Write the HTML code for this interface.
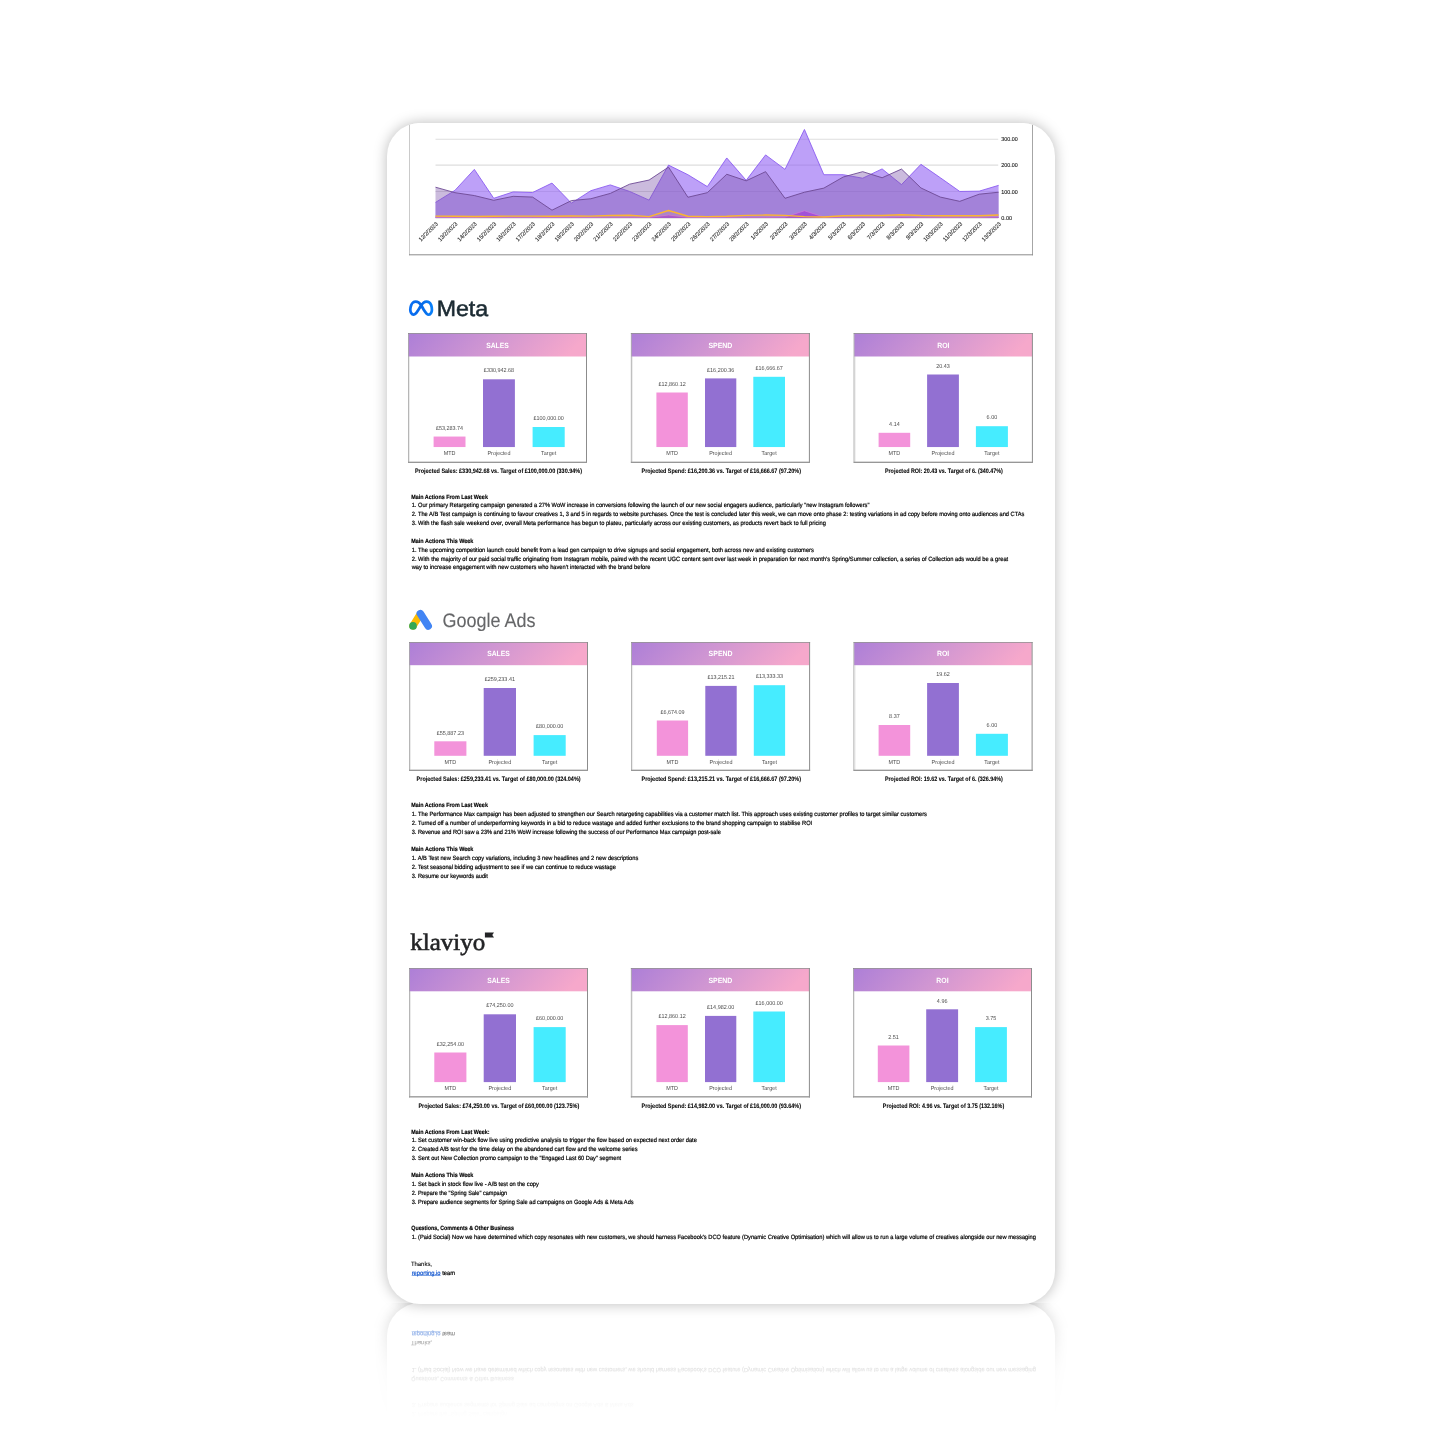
<!DOCTYPE html>
<html lang="en"><head><meta charset="utf-8"><title>Weekly performance report</title>
<style>
html,body{margin:0;padding:0;background:#fff}
body{width:1445px;height:1445px;overflow:hidden;position:relative;font-family:'Liberation Sans',sans-serif}
#wrap{position:absolute;left:347px;top:83px;width:748px;height:1221px;
 -webkit-box-reflect:below -1px linear-gradient(to bottom, transparent 0, transparent 1103px, rgba(0,0,0,.025) 1121px, rgba(0,0,0,.06) 1141px, rgba(0,0,0,.11) 1155px, rgba(0,0,0,.3) 1176px, rgba(0,0,0,.5) 1196px, rgba(0,0,0,.62) 1209px, rgba(0,0,0,.75) 100%)}
#card{position:absolute;left:40px;top:40px;width:668px;height:1181px;border-radius:33px;background:#fff;box-shadow:0 0 14px rgba(0,0,0,.27)}
#clip{position:absolute;left:0;top:0;right:0;bottom:0;border-radius:33px;overflow:hidden}
#sheet{position:absolute;left:-387px;top:-123px;width:1445px;height:1445px}
svg{position:absolute;left:0;top:0}
a{color:#1659d0;text-decoration:underline;text-decoration-thickness:.5px;text-underline-offset:-.2px;text-decoration-color:rgba(22,89,208,.55);text-decoration-skip-ink:none;-webkit-text-stroke:.2px #1659d0}
.t{position:absolute;white-space:nowrap;margin:0;transform-origin:0 50%;text-rendering:geometricPrecision;color:#000}
.n{font:normal 6.2px/8.68px 'Liberation Sans',sans-serif;-webkit-text-stroke:.2px #000}
.l{font:normal 6.2px/8.68px 'Liberation Sans',sans-serif;-webkit-text-stroke:.08px #000}
.h{font:bold 6.2px/8.68px 'Liberation Sans',sans-serif;-webkit-text-stroke:.16px #000}
.cap{font:bold 6.4px/8.96px 'Liberation Sans',sans-serif;-webkit-text-stroke:.06px #000}
.ttl{font:bold 7.6px/10.64px 'Liberation Sans',sans-serif;color:#fff}
.v{font:normal 5.8px/8.12px 'Liberation Sans',sans-serif;color:#4c4c4c}
</style></head><body>
<div id="wrap"><div id="card"><div id="clip"><div id="sheet">

<svg width="1445" height="1445" viewBox="0 0 1445 1445" font-family="Liberation Sans, sans-serif" text-rendering="geometricPrecision">
<defs><linearGradient id="hg" x1="0" y1="0" x2="1" y2="0.12"><stop offset="0" stop-color="#ad7fd7"/><stop offset="0.5" stop-color="#d096d2"/><stop offset="1" stop-color="#f6a8cb"/></linearGradient><linearGradient id="mg" gradientUnits="userSpaceOnUse" x1="409" y1="308" x2="433" y2="308"><stop offset="0" stop-color="#0a70f5"/><stop offset=".5" stop-color="#0668e6"/><stop offset="1" stop-color="#0a82fb"/></linearGradient></defs>
<rect x="409" y="100.0" width="624" height="155.3" fill="#fff"/>
<rect x="409" y="100.0" width="0.42" height="155.3" fill="#808080"/>
<rect x="1032" y="100.0" width="1" height="155.3" fill="#a6a6a6"/>
<rect x="409" y="254.3" width="624" height="1" fill="#8c8c8c"/>
<line x1="435.50" y1="139.25" x2="998.20" y2="139.25" stroke="#dedede" stroke-width="1.1"/>
<line x1="435.50" y1="165.10" x2="998.20" y2="165.10" stroke="#dedede" stroke-width="1.1"/>
<line x1="435.50" y1="191.50" x2="998.20" y2="191.50" stroke="#dedede" stroke-width="1.1"/>
<line x1="435.50" y1="218.10" x2="998.20" y2="218.10" stroke="#dedede" stroke-width="1.1"/>
<polygon points="435.50,218.10 435.50,202.42 454.92,190.39 474.33,169.38 493.75,198.31 513.17,191.91 532.59,192.52 552.00,183.08 571.42,203.18 590.84,190.69 610.26,184.91 629.67,191.46 649.09,200.13 668.51,165.12 687.92,174.71 707.34,186.58 726.76,157.96 746.18,180.34 765.59,154.91 785.01,169.38 804.43,129.49 823.84,174.71 843.26,174.71 862.68,178.21 882.10,168.92 901.51,184.60 920.93,164.35 940.35,177.75 959.77,191.46 979.18,191.15 998.60,185.37 998.60,218.10" fill="rgba(145,97,243,.6)"/>
<polyline points="435.50,202.42 454.92,190.39 474.33,169.38 493.75,198.31 513.17,191.91 532.59,192.52 552.00,183.08 571.42,203.18 590.84,190.69 610.26,184.91 629.67,191.46 649.09,200.13 668.51,165.12 687.92,174.71 707.34,186.58 726.76,157.96 746.18,180.34 765.59,154.91 785.01,169.38 804.43,129.49 823.84,174.71 843.26,174.71 862.68,178.21 882.10,168.92 901.51,184.60 920.93,164.35 940.35,177.75 959.77,191.46 979.18,191.15 998.60,185.37" fill="none" stroke="#8b5cf0" stroke-width="0.9" stroke-linejoin="round"/>
<polygon points="435.50,218.10 435.50,187.19 454.92,192.67 474.33,195.57 493.75,200.29 513.17,196.33 532.59,197.09 552.00,210.18 571.42,200.59 590.84,198.76 610.26,193.43 629.67,184.15 649.09,180.04 668.51,167.10 687.92,197.24 707.34,192.67 726.76,174.25 746.18,180.80 765.59,171.66 785.01,198.31 804.43,192.22 823.84,188.11 843.26,176.99 862.68,171.66 882.10,177.75 901.51,169.07 920.93,187.95 940.35,197.09 959.77,201.35 979.18,194.20 998.60,192.22 998.60,218.10" fill="rgba(126,84,170,.4)"/>
<polyline points="435.50,187.19 454.92,192.67 474.33,195.57 493.75,200.29 513.17,196.33 532.59,197.09 552.00,210.18 571.42,200.59 590.84,198.76 610.26,193.43 629.67,184.15 649.09,180.04 668.51,167.10 687.92,197.24 707.34,192.67 726.76,174.25 746.18,180.80 765.59,171.66 785.01,198.31 804.43,192.22 823.84,188.11 843.26,176.99 862.68,171.66 882.10,177.75 901.51,169.07 920.93,187.95 940.35,197.09 959.77,201.35 979.18,194.20 998.60,192.22" fill="none" stroke="#6d4a94" stroke-width="0.9" stroke-linejoin="round"/>
<polygon points="435.50,218.10 435.50,217.34 454.92,217.34 474.33,217.49 493.75,217.34 513.17,217.34 532.59,217.34 552.00,217.34 571.42,217.34 590.84,217.34 610.26,217.19 629.67,217.19 649.09,217.34 668.51,215.05 687.92,217.34 707.34,217.34 726.76,217.34 746.18,217.19 765.59,217.19 785.01,217.03 804.43,210.79 823.84,217.03 843.26,217.19 862.68,217.19 882.10,217.19 901.51,216.88 920.93,217.19 940.35,217.34 959.77,217.34 979.18,217.34 998.60,216.88 998.60,218.10" fill="rgba(160,70,215,.8)"/>
<polyline points="435.50,217.34 454.92,217.34 474.33,217.49 493.75,217.34 513.17,217.34 532.59,217.34 552.00,217.34 571.42,217.34 590.84,217.34 610.26,217.19 629.67,217.19 649.09,217.34 668.51,215.05 687.92,217.34 707.34,217.34 726.76,217.34 746.18,217.19 765.59,217.19 785.01,217.03 804.43,210.79 823.84,217.03 843.26,217.19 862.68,217.19 882.10,217.19 901.51,216.88 920.93,217.19 940.35,217.34 959.77,217.34 979.18,217.34 998.60,216.88" fill="none" stroke="#d27bdc" stroke-width="0.7" stroke-linejoin="round"/>
<polygon points="435.50,218.10 435.50,216.12 454.92,216.27 474.33,216.43 493.75,216.27 513.17,216.12 532.59,216.12 552.00,216.27 571.42,215.97 590.84,216.12 610.26,215.51 629.67,215.21 649.09,216.58 668.51,210.49 687.92,216.27 707.34,216.58 726.76,216.27 746.18,215.36 765.59,215.05 785.01,215.36 804.43,216.58 823.84,217.03 843.26,215.82 862.68,215.51 882.10,215.51 901.51,214.75 920.93,215.51 940.35,215.82 959.77,215.82 979.18,215.82 998.60,215.05 998.60,218.10" fill="rgba(255,170,60,.10)"/>
<polyline points="435.50,216.12 454.92,216.27 474.33,216.43 493.75,216.27 513.17,216.12 532.59,216.12 552.00,216.27 571.42,215.97 590.84,216.12 610.26,215.51 629.67,215.21 649.09,216.58 668.51,210.49 687.92,216.27 707.34,216.58 726.76,216.27 746.18,215.36 765.59,215.05 785.01,215.36 804.43,216.58 823.84,217.03 843.26,215.82 862.68,215.51 882.10,215.51 901.51,214.75 920.93,215.51 940.35,215.82 959.77,215.82 979.18,215.82 998.60,215.05" fill="none" stroke="#fbb530" stroke-width="1.4" stroke-linejoin="round"/>
<text x="1001.3" y="141.25" font-size="5.7" fill="#222" stroke="#222" stroke-width="0.12" textLength="16.4" lengthAdjust="spacingAndGlyphs">300.00</text>
<text x="1001.3" y="167.10" font-size="5.7" fill="#222" stroke="#222" stroke-width="0.12" textLength="16.4" lengthAdjust="spacingAndGlyphs">200.00</text>
<text x="1001.3" y="193.50" font-size="5.7" fill="#222" stroke="#222" stroke-width="0.12" textLength="16.4" lengthAdjust="spacingAndGlyphs">100.00</text>
<text x="1001.3" y="220.10" font-size="5.7" fill="#222" stroke="#222" stroke-width="0.12" textLength="10.7" lengthAdjust="spacingAndGlyphs">0.00</text>
<text transform="translate(438.40,224.40) rotate(-45)" x="-24.6" font-size="6" fill="#2a2a2a" stroke="#2a2a2a" stroke-width="0.1" textLength="24.6" lengthAdjust="spacingAndGlyphs">12/2/2023</text>
<text transform="translate(457.82,224.40) rotate(-45)" x="-24.6" font-size="6" fill="#2a2a2a" stroke="#2a2a2a" stroke-width="0.1" textLength="24.6" lengthAdjust="spacingAndGlyphs">13/2/2023</text>
<text transform="translate(477.23,224.40) rotate(-45)" x="-24.6" font-size="6" fill="#2a2a2a" stroke="#2a2a2a" stroke-width="0.1" textLength="24.6" lengthAdjust="spacingAndGlyphs">14/2/2023</text>
<text transform="translate(496.65,224.40) rotate(-45)" x="-24.6" font-size="6" fill="#2a2a2a" stroke="#2a2a2a" stroke-width="0.1" textLength="24.6" lengthAdjust="spacingAndGlyphs">15/2/2023</text>
<text transform="translate(516.07,224.40) rotate(-45)" x="-24.6" font-size="6" fill="#2a2a2a" stroke="#2a2a2a" stroke-width="0.1" textLength="24.6" lengthAdjust="spacingAndGlyphs">16/2/2023</text>
<text transform="translate(535.49,224.40) rotate(-45)" x="-24.6" font-size="6" fill="#2a2a2a" stroke="#2a2a2a" stroke-width="0.1" textLength="24.6" lengthAdjust="spacingAndGlyphs">17/2/2023</text>
<text transform="translate(554.90,224.40) rotate(-45)" x="-24.6" font-size="6" fill="#2a2a2a" stroke="#2a2a2a" stroke-width="0.1" textLength="24.6" lengthAdjust="spacingAndGlyphs">18/2/2023</text>
<text transform="translate(574.32,224.40) rotate(-45)" x="-24.6" font-size="6" fill="#2a2a2a" stroke="#2a2a2a" stroke-width="0.1" textLength="24.6" lengthAdjust="spacingAndGlyphs">19/2/2023</text>
<text transform="translate(593.74,224.40) rotate(-45)" x="-24.6" font-size="6" fill="#2a2a2a" stroke="#2a2a2a" stroke-width="0.1" textLength="24.6" lengthAdjust="spacingAndGlyphs">20/2/2023</text>
<text transform="translate(613.16,224.40) rotate(-45)" x="-24.6" font-size="6" fill="#2a2a2a" stroke="#2a2a2a" stroke-width="0.1" textLength="24.6" lengthAdjust="spacingAndGlyphs">21/2/2023</text>
<text transform="translate(632.57,224.40) rotate(-45)" x="-24.6" font-size="6" fill="#2a2a2a" stroke="#2a2a2a" stroke-width="0.1" textLength="24.6" lengthAdjust="spacingAndGlyphs">22/2/2023</text>
<text transform="translate(651.99,224.40) rotate(-45)" x="-24.6" font-size="6" fill="#2a2a2a" stroke="#2a2a2a" stroke-width="0.1" textLength="24.6" lengthAdjust="spacingAndGlyphs">23/2/2023</text>
<text transform="translate(671.41,224.40) rotate(-45)" x="-24.6" font-size="6" fill="#2a2a2a" stroke="#2a2a2a" stroke-width="0.1" textLength="24.6" lengthAdjust="spacingAndGlyphs">24/2/2023</text>
<text transform="translate(690.82,224.40) rotate(-45)" x="-24.6" font-size="6" fill="#2a2a2a" stroke="#2a2a2a" stroke-width="0.1" textLength="24.6" lengthAdjust="spacingAndGlyphs">25/2/2023</text>
<text transform="translate(710.24,224.40) rotate(-45)" x="-24.6" font-size="6" fill="#2a2a2a" stroke="#2a2a2a" stroke-width="0.1" textLength="24.6" lengthAdjust="spacingAndGlyphs">26/2/2023</text>
<text transform="translate(729.66,224.40) rotate(-45)" x="-24.6" font-size="6" fill="#2a2a2a" stroke="#2a2a2a" stroke-width="0.1" textLength="24.6" lengthAdjust="spacingAndGlyphs">27/2/2023</text>
<text transform="translate(749.08,224.40) rotate(-45)" x="-24.6" font-size="6" fill="#2a2a2a" stroke="#2a2a2a" stroke-width="0.1" textLength="24.6" lengthAdjust="spacingAndGlyphs">28/2/2023</text>
<text transform="translate(768.49,224.40) rotate(-45)" x="-22.0" font-size="6" fill="#2a2a2a" stroke="#2a2a2a" stroke-width="0.1" textLength="22.0" lengthAdjust="spacingAndGlyphs">1/3/2023</text>
<text transform="translate(787.91,224.40) rotate(-45)" x="-22.0" font-size="6" fill="#2a2a2a" stroke="#2a2a2a" stroke-width="0.1" textLength="22.0" lengthAdjust="spacingAndGlyphs">2/3/2023</text>
<text transform="translate(807.33,224.40) rotate(-45)" x="-22.0" font-size="6" fill="#2a2a2a" stroke="#2a2a2a" stroke-width="0.1" textLength="22.0" lengthAdjust="spacingAndGlyphs">3/3/2023</text>
<text transform="translate(826.74,224.40) rotate(-45)" x="-22.0" font-size="6" fill="#2a2a2a" stroke="#2a2a2a" stroke-width="0.1" textLength="22.0" lengthAdjust="spacingAndGlyphs">4/3/2023</text>
<text transform="translate(846.16,224.40) rotate(-45)" x="-22.0" font-size="6" fill="#2a2a2a" stroke="#2a2a2a" stroke-width="0.1" textLength="22.0" lengthAdjust="spacingAndGlyphs">5/3/2023</text>
<text transform="translate(865.58,224.40) rotate(-45)" x="-22.0" font-size="6" fill="#2a2a2a" stroke="#2a2a2a" stroke-width="0.1" textLength="22.0" lengthAdjust="spacingAndGlyphs">6/3/2023</text>
<text transform="translate(885.00,224.40) rotate(-45)" x="-22.0" font-size="6" fill="#2a2a2a" stroke="#2a2a2a" stroke-width="0.1" textLength="22.0" lengthAdjust="spacingAndGlyphs">7/3/2023</text>
<text transform="translate(904.41,224.40) rotate(-45)" x="-22.0" font-size="6" fill="#2a2a2a" stroke="#2a2a2a" stroke-width="0.1" textLength="22.0" lengthAdjust="spacingAndGlyphs">8/3/2023</text>
<text transform="translate(923.83,224.40) rotate(-45)" x="-22.0" font-size="6" fill="#2a2a2a" stroke="#2a2a2a" stroke-width="0.1" textLength="22.0" lengthAdjust="spacingAndGlyphs">9/3/2023</text>
<text transform="translate(943.25,224.40) rotate(-45)" x="-24.6" font-size="6" fill="#2a2a2a" stroke="#2a2a2a" stroke-width="0.1" textLength="24.6" lengthAdjust="spacingAndGlyphs">10/3/2023</text>
<text transform="translate(962.67,224.40) rotate(-45)" x="-24.6" font-size="6" fill="#2a2a2a" stroke="#2a2a2a" stroke-width="0.1" textLength="24.6" lengthAdjust="spacingAndGlyphs">11/3/2023</text>
<text transform="translate(982.08,224.40) rotate(-45)" x="-24.6" font-size="6" fill="#2a2a2a" stroke="#2a2a2a" stroke-width="0.1" textLength="24.6" lengthAdjust="spacingAndGlyphs">12/3/2023</text>
<text transform="translate(1001.50,224.40) rotate(-45)" x="-24.6" font-size="6" fill="#2a2a2a" stroke="#2a2a2a" stroke-width="0.1" textLength="24.6" lengthAdjust="spacingAndGlyphs">13/3/2023</text>
<rect x="408.00" y="333.00" width="179.00" height="130.00" fill="#fff"/>
<rect x="408.60" y="333.50" width="177.60" height="23.00" fill="url(#hg)"/>
<rect x="408.00" y="333.00" width="179.00" height="0.60" fill="#707070"/>
<rect x="408.00" y="333.00" width="0.60" height="130.00" fill="#868686"/>
<rect x="409.00" y="356.50" width="1.00" height="105.20" fill="rgba(0,0,0,.08)"/>
<rect x="586.00" y="333.00" width="1.00" height="130.00" fill="#8c8c8c"/>
<rect x="408.00" y="461.65" width="179.00" height="1.35" fill="#979797"/>
<rect x="433.60" y="436.55" width="31.90" height="10.50" fill="#f393da"/>
<rect x="483.00" y="379.30" width="31.90" height="67.75" fill="#9270d2"/>
<rect x="532.60" y="427.00" width="32.10" height="20.05" fill="#46ecff"/>
<rect x="630.90" y="333.00" width="179.00" height="130.00" fill="#fff"/>
<rect x="631.50" y="333.50" width="177.60" height="23.00" fill="url(#hg)"/>
<rect x="630.90" y="333.00" width="179.00" height="0.60" fill="#707070"/>
<rect x="630.90" y="333.00" width="0.60" height="130.00" fill="#868686"/>
<rect x="631.90" y="356.50" width="1.00" height="105.20" fill="rgba(0,0,0,.08)"/>
<rect x="808.90" y="333.00" width="1.00" height="130.00" fill="#8c8c8c"/>
<rect x="630.90" y="461.65" width="179.00" height="1.35" fill="#979797"/>
<rect x="656.40" y="392.50" width="31.40" height="54.55" fill="#f393da"/>
<rect x="705.00" y="378.40" width="31.30" height="68.65" fill="#9270d2"/>
<rect x="753.30" y="376.80" width="31.70" height="70.25" fill="#46ecff"/>
<rect x="853.70" y="333.00" width="179.20" height="130.00" fill="#fff"/>
<rect x="854.30" y="333.50" width="177.80" height="23.00" fill="url(#hg)"/>
<rect x="853.70" y="333.00" width="179.20" height="0.60" fill="#707070"/>
<rect x="853.70" y="333.00" width="0.60" height="130.00" fill="#868686"/>
<rect x="854.70" y="356.50" width="1.00" height="105.20" fill="rgba(0,0,0,.08)"/>
<rect x="1031.90" y="333.00" width="1.00" height="130.00" fill="#8c8c8c"/>
<rect x="853.70" y="461.65" width="179.20" height="1.35" fill="#979797"/>
<rect x="878.60" y="432.80" width="31.60" height="14.25" fill="#f393da"/>
<rect x="927.10" y="374.50" width="31.80" height="72.55" fill="#9270d2"/>
<rect x="975.90" y="426.20" width="32.00" height="20.85" fill="#46ecff"/>
<rect x="409.00" y="642.00" width="179.00" height="129.00" fill="#fff"/>
<rect x="409.60" y="642.50" width="177.60" height="22.70" fill="url(#hg)"/>
<rect x="409.00" y="642.00" width="179.00" height="0.60" fill="#707070"/>
<rect x="409.00" y="642.00" width="0.60" height="129.00" fill="#868686"/>
<rect x="410.00" y="665.20" width="1.00" height="104.50" fill="rgba(0,0,0,.08)"/>
<rect x="587.00" y="642.00" width="1.00" height="129.00" fill="#8c8c8c"/>
<rect x="409.00" y="769.65" width="179.00" height="1.35" fill="#979797"/>
<rect x="434.30" y="741.30" width="32.10" height="14.50" fill="#f393da"/>
<rect x="483.70" y="688.00" width="32.30" height="67.80" fill="#9270d2"/>
<rect x="533.60" y="735.10" width="32.10" height="20.70" fill="#46ecff"/>
<rect x="631.10" y="642.00" width="179.00" height="129.00" fill="#fff"/>
<rect x="631.70" y="642.50" width="177.60" height="22.70" fill="url(#hg)"/>
<rect x="631.10" y="642.00" width="179.00" height="0.60" fill="#707070"/>
<rect x="631.10" y="642.00" width="0.60" height="129.00" fill="#868686"/>
<rect x="632.10" y="665.20" width="1.00" height="104.50" fill="rgba(0,0,0,.08)"/>
<rect x="809.10" y="642.00" width="1.00" height="129.00" fill="#8c8c8c"/>
<rect x="631.10" y="769.65" width="179.00" height="1.35" fill="#979797"/>
<rect x="656.80" y="720.50" width="31.30" height="35.30" fill="#f393da"/>
<rect x="705.30" y="685.90" width="31.40" height="69.90" fill="#9270d2"/>
<rect x="753.80" y="685.20" width="31.30" height="70.60" fill="#46ecff"/>
<rect x="853.60" y="642.00" width="179.00" height="129.00" fill="#fff"/>
<rect x="854.20" y="642.50" width="177.60" height="22.70" fill="url(#hg)"/>
<rect x="853.60" y="642.00" width="179.00" height="0.60" fill="#707070"/>
<rect x="853.60" y="642.00" width="0.60" height="129.00" fill="#868686"/>
<rect x="854.60" y="665.20" width="1.00" height="104.50" fill="rgba(0,0,0,.08)"/>
<rect x="1031.60" y="642.00" width="1.00" height="129.00" fill="#8c8c8c"/>
<rect x="853.60" y="769.65" width="179.00" height="1.35" fill="#979797"/>
<rect x="878.60" y="725.00" width="31.60" height="30.80" fill="#f393da"/>
<rect x="927.10" y="683.00" width="31.80" height="72.80" fill="#9270d2"/>
<rect x="975.90" y="733.80" width="32.00" height="22.00" fill="#46ecff"/>
<rect x="409.00" y="968.00" width="179.00" height="129.50" fill="#fff"/>
<rect x="409.60" y="968.50" width="177.60" height="22.80" fill="url(#hg)"/>
<rect x="409.00" y="968.00" width="179.00" height="0.60" fill="#707070"/>
<rect x="409.00" y="968.00" width="0.60" height="129.50" fill="#868686"/>
<rect x="410.00" y="991.30" width="1.00" height="104.90" fill="rgba(0,0,0,.08)"/>
<rect x="587.00" y="968.00" width="1.00" height="129.50" fill="#8c8c8c"/>
<rect x="409.00" y="1096.15" width="179.00" height="1.35" fill="#979797"/>
<rect x="434.30" y="1052.50" width="32.10" height="29.60" fill="#f393da"/>
<rect x="483.70" y="1014.30" width="32.30" height="67.80" fill="#9270d2"/>
<rect x="533.60" y="1027.10" width="32.10" height="55.00" fill="#46ecff"/>
<rect x="630.90" y="968.00" width="179.00" height="129.50" fill="#fff"/>
<rect x="631.50" y="968.50" width="177.60" height="22.80" fill="url(#hg)"/>
<rect x="630.90" y="968.00" width="179.00" height="0.60" fill="#707070"/>
<rect x="630.90" y="968.00" width="0.60" height="129.50" fill="#868686"/>
<rect x="631.90" y="991.30" width="1.00" height="104.90" fill="rgba(0,0,0,.08)"/>
<rect x="808.90" y="968.00" width="1.00" height="129.50" fill="#8c8c8c"/>
<rect x="630.90" y="1096.15" width="179.00" height="1.35" fill="#979797"/>
<rect x="656.40" y="1025.10" width="31.40" height="57.00" fill="#f393da"/>
<rect x="705.00" y="1015.90" width="31.30" height="66.20" fill="#9270d2"/>
<rect x="753.30" y="1011.50" width="31.70" height="70.60" fill="#46ecff"/>
<rect x="853.00" y="968.00" width="179.00" height="129.50" fill="#fff"/>
<rect x="853.60" y="968.50" width="177.60" height="22.80" fill="url(#hg)"/>
<rect x="853.00" y="968.00" width="179.00" height="0.60" fill="#707070"/>
<rect x="853.00" y="968.00" width="0.60" height="129.50" fill="#868686"/>
<rect x="854.00" y="991.30" width="1.00" height="104.90" fill="rgba(0,0,0,.08)"/>
<rect x="1031.00" y="968.00" width="1.00" height="129.50" fill="#8c8c8c"/>
<rect x="853.00" y="1096.15" width="179.00" height="1.35" fill="#979797"/>
<rect x="877.80" y="1045.50" width="31.60" height="36.60" fill="#f393da"/>
<rect x="926.20" y="1009.30" width="31.90" height="72.80" fill="#9270d2"/>
<rect x="975.10" y="1027.10" width="31.80" height="55.00" fill="#46ecff"/>
<path d="M413.47 314.68 C412.67 314.63 411.71 313.82 411.18 312.99 C410.65 312.16 410.31 310.99 410.31 309.70 C410.31 308.40 410.73 306.42 411.18 305.21 C411.63 304.01 412.27 303.06 413.02 302.47 C413.78 301.88 414.81 301.68 415.71 301.68 C416.62 301.68 417.54 301.86 418.45 302.47 C419.37 303.08 420.28 304.09 421.19 305.34 C422.11 306.58 423.06 308.60 423.93 309.95 C424.81 311.30 425.59 312.65 426.43 313.44 C427.26 314.22 428.15 314.74 428.92 314.68 C429.68 314.62 430.54 313.85 431.03 313.06 C431.53 312.27 431.88 311.26 431.91 309.95 C431.93 308.64 431.67 306.46 431.21 305.21 C430.75 303.97 429.96 303.06 429.17 302.47 C428.37 301.88 427.34 301.66 426.43 301.68 C425.51 301.70 424.56 301.99 423.68 302.60 C422.81 303.21 422.07 304.16 421.19 305.34 C420.32 306.52 419.32 308.37 418.45 309.70 C417.58 311.03 416.79 312.48 415.96 313.31 C415.13 314.14 414.27 314.74 413.47 314.68Z" fill="none" stroke="url(#mg)" stroke-width="2.75" stroke-linejoin="round"/>
<line x1="419.3" y1="615.8" x2="413.0" y2="625.9" stroke="#fbbc04" stroke-width="7.4" stroke-linecap="round"/>
<line x1="420.3" y1="613.6" x2="428.2" y2="626.1" stroke="#4285f4" stroke-width="7.5" stroke-linecap="round"/>
<circle cx="413.0" cy="625.9" r="3.85" fill="#34a853"/>
<path d="M484.9 932.4 H494.0 L492.3 935.0 L494.0 937.6 H484.9 Z" fill="#232426"/>
<text x="436.7" y="315.5" font-size="22" fill="#1c2b33" stroke="#1c2b33" stroke-width="0.55" textLength="51.5" lengthAdjust="spacingAndGlyphs">Meta</text>
<text x="442.4" y="626.8" font-size="19.5" fill="#656668" stroke="#656668" stroke-width="0.12" textLength="93.0" lengthAdjust="spacingAndGlyphs">Google Ads</text>
<text x="410.2" y="950.0" font-family="Liberation Serif, serif" font-size="23.8" fill="#232426" stroke="#232426" stroke-width="0.55" textLength="75.0" lengthAdjust="spacingAndGlyphs">klaviyo</text>
</svg>
<div class="t h" style="left:411px;top:494px;transform:translateX(0.25px) scaleX(0.8741)">Main Actions From Last Week</div>
<div class="t n" style="left:411px;top:502px;transform:translateX(0.70px) scaleX(0.9183)">1. Our primary Retargeting campaign generated a 27% WoW increase in conversions following the launch of our new social engagers audience, particularly &quot;new Instagram followers&quot;</div>
<div class="t n" style="left:411px;top:511px;transform:translateX(0.70px) scaleX(0.9211)">2. The A/B Test campaign is continuing to favour creatives 1, 3 and 5 in regards to website purchases. Once the test is concluded later this week, we can move onto phase 2: testing variations in ad copy before moving onto audiences and CTAs</div>
<div class="t n" style="left:411px;top:520px;transform:translateX(0.70px) scaleX(0.9243)">3. With the flash sale weekend over, overall Meta performance has begun to plateu, particularly across our existing customers, as products revert back to full pricing</div>
<div class="t h" style="left:411px;top:538px;transform:translateX(0.25px) scaleX(0.8818)">Main Actions This Week</div>
<div class="t n" style="left:411px;top:547px;transform:translateX(0.70px) scaleX(0.9275)">1. The upcoming competition launch could benefit from a lead gen campaign to drive signups and social engagement, both across new and existing customers</div>
<div class="t n" style="left:411px;top:556px;transform:translateX(0.70px) scaleX(0.9264)">2. With the majority of our paid social traffic originating from Instagram mobile, paired with the recent UGC content sent over last week in preparation for next month&#x27;s Spring/Summer collection, a series of Collection ads would be a great</div>
<div class="t n" style="left:411px;top:564px;transform:translateX(0.70px) scaleX(0.9232)">way to increase engagement with new customers who haven&#x27;t interacted with the brand before</div>
<div class="t h" style="left:411px;top:802px;transform:translateX(0.25px) scaleX(0.8741)">Main Actions From Last Week</div>
<div class="t n" style="left:411px;top:811px;transform:translateX(0.70px) scaleX(0.9281)">1. The Performance Max campaign has been adjusted to strengthen our Search retargeting capabilities via a customer match list. This approach uses existing customer profiles to target similar customers</div>
<div class="t n" style="left:411px;top:820px;transform:translateX(0.70px) scaleX(0.9243)">2. Turned off a number of underperforming keywords in a bid to reduce wastage and added further exclusions to the brand shopping campaign to stabilise ROI</div>
<div class="t n" style="left:411px;top:829px;transform:translateX(0.70px) scaleX(0.9090)">3. Revenue and ROI saw a 23% and 21% WoW increase following the success of our Performance Max campaign post-sale</div>
<div class="t h" style="left:411px;top:846px;transform:translateX(0.25px) scaleX(0.8818)">Main Actions This Week</div>
<div class="t n" style="left:411px;top:855px;transform:translateX(0.70px) scaleX(0.9205)">1. A/B Test new Search copy variations, including 3 new headlines and 2 new descriptions</div>
<div class="t n" style="left:411px;top:864px;transform:translateX(0.70px) scaleX(0.9266)">2. Test seasonal bidding adjustment to see if we can continue to reduce wastage</div>
<div class="t n" style="left:411px;top:873px;transform:translateX(0.70px) scaleX(0.9117)">3. Resume our keywords audit</div>
<div class="t h" style="left:411px;top:1129px;transform:translateX(0.25px) scaleX(0.8731)">Main Actions From Last Week:</div>
<div class="t n" style="left:411px;top:1137px;transform:translateX(0.70px) scaleX(0.9244)">1. Set customer win-back flow live using predictive analysis to trigger the flow based on expected next order date</div>
<div class="t n" style="left:411px;top:1146px;transform:translateX(0.70px) scaleX(0.9250)">2. Created A/B test for the time delay on the abandoned cart flow and the welcome series</div>
<div class="t n" style="left:411px;top:1155px;transform:translateX(0.70px) scaleX(0.9148)">3. Sent out New Collection promo campaign to the &quot;Engaged Last 60 Day&quot; segment</div>
<div class="t h" style="left:411px;top:1172px;transform:translateX(0.25px) scaleX(0.8818)">Main Actions This Week</div>
<div class="t n" style="left:411px;top:1181px;transform:translateX(0.70px) scaleX(0.9223)">1. Set back in stock flow live - A/B test on the copy</div>
<div class="t n" style="left:411px;top:1190px;transform:translateX(0.70px) scaleX(0.9011)">2. Prepare the &quot;Spring Sale&quot; campaign</div>
<div class="t n" style="left:411px;top:1199px;transform:translateX(0.70px) scaleX(0.9138)">3. Prepare audience segments for Spring Sale ad campaigns on Google Ads &amp; Meta Ads</div>
<div class="t h" style="left:411px;top:1225px;transform:translateX(0.25px) scaleX(0.8612)">Questions, Comments &amp; Other Business</div>
<div class="t n" style="left:411px;top:1234px;transform:translateX(0.70px) scaleX(0.9249)">1. (Paid Social) Now we have determined which copy resonates with new customers, we should harness Facebook&#x27;s DCO feature (Dynamic Creative Optimisation) which will allow us to run a large volume of creatives alongside our new messaging</div>
<div class="t l" style="left:410px;top:1261px;transform:translateX(0.90px) scaleX(0.9584)">Thanks,</div>
<div class="t cap" style="left:414px;top:468px;transform:translateX(0.90px) scaleX(0.8573)">Projected Sales: £330,942.68 vs. Target of £100,000.00 (330.94%)</div>
<div class="t ttl" style="left:486px;top:341px;transform:translateX(0.15px) scaleX(0.8962)">SALES</div>
<div class="t v" style="left:435px;top:425px;transform:translateX(0.99px) scaleX(0.9350)">£53,283.74</div>
<div class="t v" style="left:443px;top:450px;transform:translateX(0.68px) scaleX(0.9350)">MTD</div>
<div class="t v" style="left:483px;top:367px;transform:translateX(0.87px) scaleX(0.9350)">£330,942.68</div>
<div class="t v" style="left:487px;top:450px;transform:translateX(0.50px) scaleX(0.9350)">Projected</div>
<div class="t v" style="left:533px;top:415px;transform:translateX(0.57px) scaleX(0.9350)">£100,000.00</div>
<div class="t v" style="left:541px;top:450px;transform:translateX(0.11px) scaleX(0.9350)">Target</div>
<div class="t cap" style="left:641px;top:468px;transform:translateX(0.50px) scaleX(0.8525)">Projected Spend: £16,200.36 vs. Target of £16,666.67 (97.20%)</div>
<div class="t ttl" style="left:708px;top:341px;transform:translateX(0.40px) scaleX(0.9170)">SPEND</div>
<div class="t v" style="left:658px;top:381px;transform:translateX(0.54px) scaleX(0.9350)">£12,860.12</div>
<div class="t v" style="left:666px;top:450px;transform:translateX(0.23px) scaleX(0.9350)">MTD</div>
<div class="t v" style="left:707px;top:367px;transform:translateX(0.09px) scaleX(0.9350)">£16,200.36</div>
<div class="t v" style="left:709px;top:450px;transform:translateX(0.20px) scaleX(0.9350)">Projected</div>
<div class="t v" style="left:755px;top:365px;transform:translateX(0.59px) scaleX(0.9350)">£16,666.67</div>
<div class="t v" style="left:761px;top:450px;transform:translateX(0.61px) scaleX(0.9350)">Target</div>
<div class="t cap" style="left:884px;top:468px;transform:translateX(0.90px) scaleX(0.8432)">Projected ROI: 20.43 vs. Target of 6. (340.47%)</div>
<div class="t ttl" style="left:937px;top:341px;transform:translateX(0.15px) scaleX(0.9101)">ROI</div>
<div class="t v" style="left:889px;top:421px;transform:translateX(0.12px) scaleX(0.9350)">4.14</div>
<div class="t v" style="left:888px;top:450px;transform:translateX(0.53px) scaleX(0.9350)">MTD</div>
<div class="t v" style="left:936px;top:363px;transform:translateX(0.21px) scaleX(0.9350)">20.43</div>
<div class="t v" style="left:931px;top:450px;transform:translateX(0.55px) scaleX(0.9350)">Projected</div>
<div class="t v" style="left:986px;top:414px;transform:translateX(0.62px) scaleX(0.9350)">6.00</div>
<div class="t v" style="left:984px;top:450px;transform:translateX(0.36px) scaleX(0.9350)">Target</div>
<div class="t cap" style="left:416px;top:776px;transform:translateX(0.60px) scaleX(0.8570)">Projected Sales: £259,233.41 vs. Target of £80,000.00 (324.04%)</div>
<div class="t ttl" style="left:487px;top:649px;transform:translateX(0.15px) scaleX(0.8962)">SALES</div>
<div class="t v" style="left:436px;top:730px;transform:translateX(0.79px) scaleX(0.9350)">£55,887.23</div>
<div class="t v" style="left:444px;top:759px;transform:translateX(0.48px) scaleX(0.9350)">MTD</div>
<div class="t v" style="left:484px;top:676px;transform:translateX(0.77px) scaleX(0.9350)">£259,233.41</div>
<div class="t v" style="left:488px;top:759px;transform:translateX(0.40px) scaleX(0.9350)">Projected</div>
<div class="t v" style="left:536px;top:723px;transform:translateX(0.09px) scaleX(0.9350)">£80,000.00</div>
<div class="t v" style="left:542px;top:759px;transform:translateX(0.11px) scaleX(0.9350)">Target</div>
<div class="t cap" style="left:641px;top:776px;transform:translateX(0.50px) scaleX(0.8525)">Projected Spend: £13,215.21 vs. Target of £16,666.67 (97.20%)</div>
<div class="t ttl" style="left:708px;top:649px;transform:translateX(0.60px) scaleX(0.9170)">SPEND</div>
<div class="t v" style="left:660px;top:709px;transform:translateX(0.39px) scaleX(0.9350)">£6,674.09</div>
<div class="t v" style="left:666px;top:759px;transform:translateX(0.58px) scaleX(0.9350)">MTD</div>
<div class="t v" style="left:707px;top:674px;transform:translateX(0.44px) scaleX(0.9350)">£13,215.21</div>
<div class="t v" style="left:709px;top:759px;transform:translateX(0.55px) scaleX(0.9350)">Projected</div>
<div class="t v" style="left:755px;top:673px;transform:translateX(0.89px) scaleX(0.9350)">£13,333.33</div>
<div class="t v" style="left:761px;top:759px;transform:translateX(0.91px) scaleX(0.9350)">Target</div>
<div class="t cap" style="left:884px;top:776px;transform:translateX(0.90px) scaleX(0.8432)">Projected ROI: 19.62 vs. Target of 6. (326.94%)</div>
<div class="t ttl" style="left:936px;top:649px;transform:translateX(0.95px) scaleX(0.9101)">ROI</div>
<div class="t v" style="left:889px;top:713px;transform:translateX(0.12px) scaleX(0.9350)">8.37</div>
<div class="t v" style="left:888px;top:759px;transform:translateX(0.53px) scaleX(0.9350)">MTD</div>
<div class="t v" style="left:936px;top:671px;transform:translateX(0.21px) scaleX(0.9350)">19.62</div>
<div class="t v" style="left:931px;top:759px;transform:translateX(0.55px) scaleX(0.9350)">Projected</div>
<div class="t v" style="left:986px;top:722px;transform:translateX(0.62px) scaleX(0.9350)">6.00</div>
<div class="t v" style="left:984px;top:759px;transform:translateX(0.36px) scaleX(0.9350)">Target</div>
<div class="t cap" style="left:418px;top:1103px;transform:translateX(0.40px) scaleX(0.8562)">Projected Sales: £74,250.00 vs. Target of £60,000.00 (123.75%)</div>
<div class="t ttl" style="left:487px;top:976px;transform:translateX(0.15px) scaleX(0.8962)">SALES</div>
<div class="t v" style="left:436px;top:1041px;transform:translateX(0.79px) scaleX(0.9350)">£32,254.00</div>
<div class="t v" style="left:444px;top:1085px;transform:translateX(0.48px) scaleX(0.9350)">MTD</div>
<div class="t v" style="left:486px;top:1002px;transform:translateX(0.29px) scaleX(0.9350)">£74,250.00</div>
<div class="t v" style="left:488px;top:1085px;transform:translateX(0.40px) scaleX(0.9350)">Projected</div>
<div class="t v" style="left:536px;top:1015px;transform:translateX(0.09px) scaleX(0.9350)">£60,000.00</div>
<div class="t v" style="left:542px;top:1085px;transform:translateX(0.11px) scaleX(0.9350)">Target</div>
<div class="t cap" style="left:641px;top:1103px;transform:translateX(0.50px) scaleX(0.8525)">Projected Spend: £14,982.00 vs. Target of £16,000.00 (93.64%)</div>
<div class="t ttl" style="left:708px;top:976px;transform:translateX(0.40px) scaleX(0.9170)">SPEND</div>
<div class="t v" style="left:658px;top:1013px;transform:translateX(0.54px) scaleX(0.9350)">£12,860.12</div>
<div class="t v" style="left:666px;top:1085px;transform:translateX(0.23px) scaleX(0.9350)">MTD</div>
<div class="t v" style="left:707px;top:1004px;transform:translateX(0.09px) scaleX(0.9350)">£14,982.00</div>
<div class="t v" style="left:709px;top:1085px;transform:translateX(0.20px) scaleX(0.9350)">Projected</div>
<div class="t v" style="left:755px;top:1000px;transform:translateX(0.59px) scaleX(0.9350)">£16,000.00</div>
<div class="t v" style="left:761px;top:1085px;transform:translateX(0.61px) scaleX(0.9350)">Target</div>
<div class="t cap" style="left:882px;top:1103px;transform:translateX(0.80px) scaleX(0.8467)">Projected ROI: 4.96 vs. Target of 3.75 (132.16%)</div>
<div class="t ttl" style="left:936px;top:976px;transform:translateX(0.35px) scaleX(0.9101)">ROI</div>
<div class="t v" style="left:888px;top:1034px;transform:translateX(0.32px) scaleX(0.9350)">2.51</div>
<div class="t v" style="left:887px;top:1085px;transform:translateX(0.73px) scaleX(0.9350)">MTD</div>
<div class="t v" style="left:936px;top:998px;transform:translateX(0.87px) scaleX(0.9350)">4.96</div>
<div class="t v" style="left:930px;top:1085px;transform:translateX(0.70px) scaleX(0.9350)">Projected</div>
<div class="t v" style="left:985px;top:1015px;transform:translateX(0.72px) scaleX(0.9350)">3.75</div>
<div class="t v" style="left:983px;top:1085px;transform:translateX(0.46px) scaleX(0.9350)">Target</div>
<div class="t n" id="sig" style="left:411px;top:1270px;transform:translateX(0.70px) scaleX(0.9324)"><a>reporting.io</a> team</div>
</div></div></div></div>
</body></html>
